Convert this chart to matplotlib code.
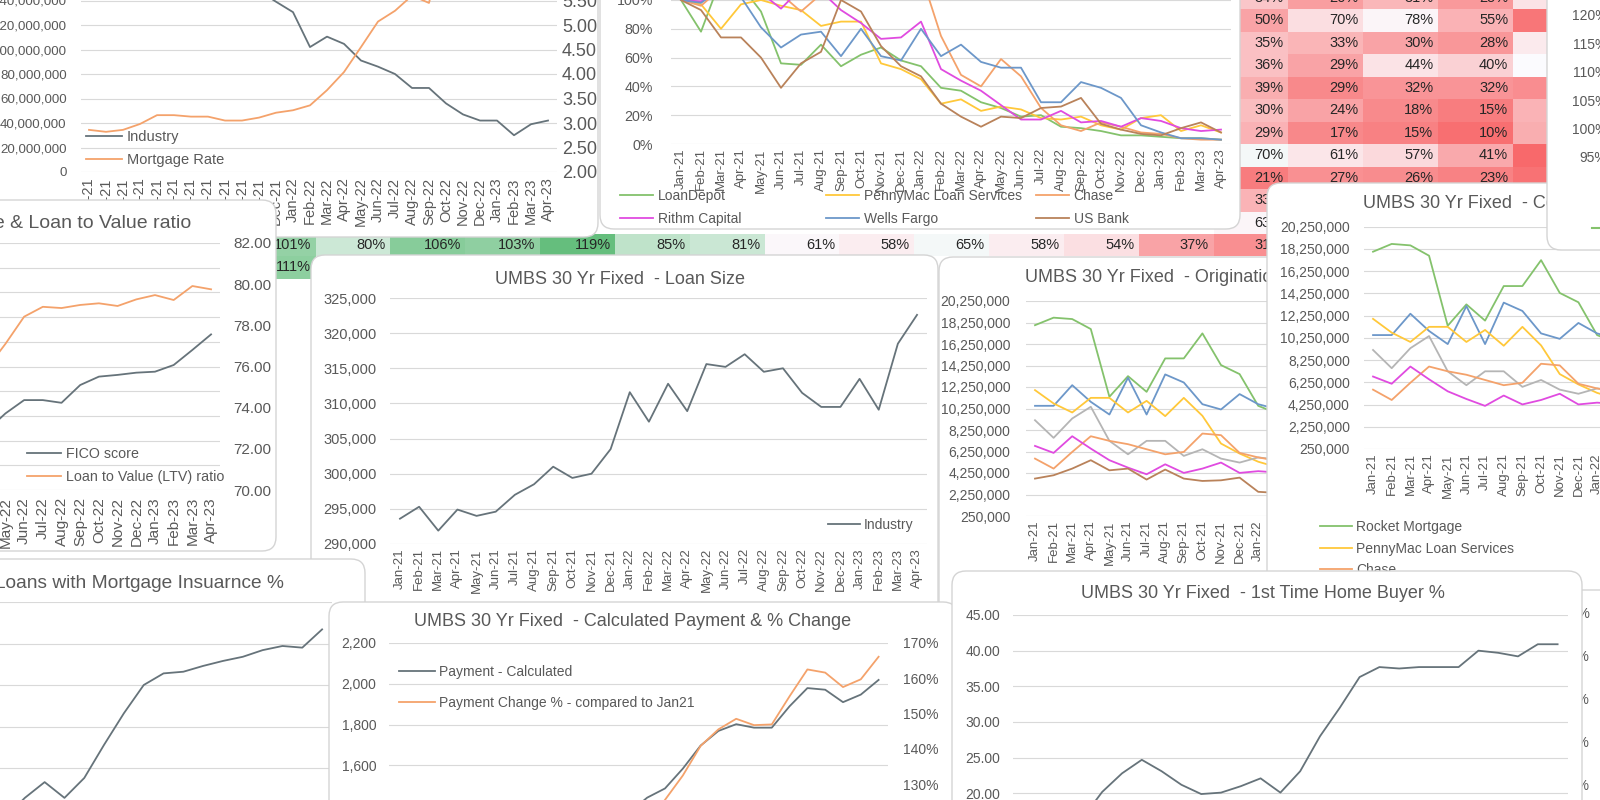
import numpy as np
import matplotlib
matplotlib.use("Agg")
import matplotlib.pyplot as plt
import matplotlib.transforms as mtransforms
from matplotlib.patches import FancyBboxPatch
from matplotlib.lines import Line2D
from matplotlib.legend import Legend
from matplotlib.colors import LinearSegmentedColormap
from matplotlib.ticker import FuncFormatter, MultipleLocator, PercentFormatter

plt.rcParams["font.family"] = ["Liberation Sans", "DejaVu Sans"]

W, H = 1600, 800
TXT = "#595959"
GRID = "#D9D9D9"
GRAY_LINE = "#66737A"
ORANGE = "#F4A26B"
GREEN = "#84C26C"
YELLOW = "#FFC83A"
MAGENTA = "#E04BE0"
BLUE = "#6C97C9"
BROWN = "#B9825A"
LIGHT_GRAY = "#B5B5B5"
LW = 1.3

MONTHS = [f"{m}-{y}" for y in ("21", "22", "23")
          for m in ("Jan", "Feb", "Mar", "Apr", "May", "Jun",
                    "Jul", "Aug", "Sep", "Oct", "Nov", "Dec")][:28]
X = np.arange(len(MONTHS))

# --- origination volume (industry) & mortgage rate --------------------------
IND_VOLUME = [215e6, 225e6, 240e6, 230e6, 212e6, 200e6, 190e6, 182e6, 172e6, 160e6,
              148e6, 139e6, 130.5e6, 102e6, 110.5e6, 104.6e6, 91e6, 86e6, 80e6, 68.6e6,
              68.6e6, 56e6, 47e6, 42e6, 42e6, 30e6, 39e6, 42e6]
MTG_RATE = [2.86, 2.82, 2.86, 2.98, 3.16, 3.16, 3.13, 3.13, 3.05, 3.05, 3.11, 3.21, 3.26, 3.36,
            3.67, 4.04, 4.55, 5.07, 5.29, 5.60, 5.45, 6.90, 6.80, 6.40, 6.30, 6.30, 6.50, 6.40]

# --- volume vs Jan-21, by lender (%) ----------------------------------------
PCT_LOANDEPOT = [100, 78, 115, 110, 92, 56, 55, 69, 54, 62, 67, 58, 54, 39, 37, 29, 25, 19,
                 20, 12, 11, 9, 6, 6, 5, 4, 4, 3]
PCT_PENNYMAC = [100, 97, 80, 97, 100, 96, 93, 82, 85, 85, 56, 52, 45, 28, 31, 23, 26, 24,
                18, 17, 19, 13, 10, 18, 20, 9, 13, 8]
PCT_CHASE = [100, 96, 108, 118, 112, 104, 92, 104, 118, 112, 108, 112, 118, 75, 48, 40, 59,
             47, 25, 13, 9, 15, 12, 8, 7, 4, 3, 3]
PCT_RITHM = [100, 99, 106, 112, 105, 94, 108, 106, 93, 84, 73, 74, 85, 52, 44, 37, 27, 17,
             17, 23, 15, 16, 12, 18, 16, 11, 9, 10]
PCT_WELLS = [100, 98, 108, 102, 81, 67, 76, 78, 61, 80, 61, 58, 80, 61, 69, 57, 53, 53, 29,
             29, 43, 39, 32, 13, 8, 4, 4, 3]
PCT_USBANK = [100, 93, 74, 74, 60, 39, 56, 64, 100, 92, 68, 54, 47, 28, 19, 12, 19, 18, 25,
              26, 32, 14, 10, 7, 6, 11, 15, 8]

# --- FICO & LTV -------------------------------------------------------------
FICO = [745, 744, 742, 741, 739, 737, 736, 735, 734, 733, 731, 730, 729, 727, 726, 724,
        731, 736.4, 736.4, 735.3, 742.5, 745.9, 746.6, 747.5, 747.9, 750.6, 756.7, 763]
LTV = [73.0, 73.4, 73.9, 74.2, 74.5, 74.8, 75.0, 75.2, 75.5, 75.6, 75.8, 76.0, 76.2, 76.3,
       76.5, 75.9, 77.1, 78.42, 78.9, 78.84, 78.99, 79.07, 78.94, 79.26, 79.47, 79.23,
       79.91, 79.75]

# --- loan size ----------------------------------------------------------------
LOAN_SIZE = [293600, 295300, 291900, 294900, 294000, 294600, 297000, 298500, 301000, 299400,
             300000, 303500, 311600, 307400, 312800, 308900, 315600, 315200, 317000, 314500,
             315000, 311500, 309500, 309500, 313500, 309100, 318500, 322600]

# --- origination volume by lender ($M) ----------------------------------------
ORIG_ROCKET = [18.0, 18.7, 18.57, 17.64, 11.34, 13.26, 11.8, 14.91, 14.91, 17.24, 14.29, 13.45,
               10.5, 9.8, 8.2, 7.4, 6.0, 5.1, 4.6, 3.9, 3.5, 3.1, 2.8, 2.4, 2.2, 2.3, 2.0, 2.1]
ORIG_WELLS = [10.5, 10.5, 12.42, 10.87, 9.69, 13.11, 9.69, 13.42, 12.67, 10.65, 10.16, 11.59,
              10.65, 10.2, 9.0, 8.1, 7.2, 6.5, 5.2, 4.9, 4.5, 4.0, 3.6, 3.2, 3.0, 2.8, 2.9, 2.6]
ORIG_PENNYMAC = [11.96, 10.72, 9.88, 11.24, 11.24, 9.88, 10.96, 9.54, 11.24, 9.57, 6.99, 6.06,
                 5.3, 4.8, 4.0, 3.5, 3.2, 2.8, 2.5, 2.3, 2.0, 1.8, 1.6, 1.5, 1.4, 1.6, 1.3, 1.4]
ORIG_LOANDEPOT = [9.16, 7.52, 9.32, 10.41, 7.24, 5.99, 7.24, 7.24, 5.84, 6.46, 5.59, 5.22, 5.7,
                  5.5, 5.0, 4.5, 4.0, 3.5, 3.0, 2.8, 2.5, 2.3, 2.0, 1.8, 1.7, 1.6, 1.7, 1.5]
ORIG_CHASE = [5.59, 4.66, 6.21, 7.67, 7.24, 6.93, 6.46, 5.99, 6.21, 7.92, 7.77, 6.12, 5.7, 5.4,
              4.0, 3.5, 3.2, 2.8, 2.5, 2.2, 2.0, 1.8, 1.6, 1.4, 1.3, 1.2, 1.3, 1.1]
ORIG_RITHM = [6.77, 6.12, 7.67, 6.52, 5.44, 4.75, 4.13, 5.06, 4.26, 4.66, 5.22, 4.26, 4.42, 4.3,
              3.8, 3.4, 3.0, 2.7, 2.4, 2.2, 2.0, 1.8, 1.6, 1.5, 1.4, 1.3, 1.4, 1.2]
ORIG_USBANK = [3.73, 4.04, 4.66, 5.44, 4.5, 4.66, 3.64, 4.57, 3.73, 3.51, 3.57, 3.82, 2.5, 2.4,
               2.2, 2.0, 1.8, 1.6, 1.4, 1.3, 1.2, 1.1, 1.0, 0.9, 0.9, 0.8, 0.9, 0.8]
ORIG_TICKS = np.arange(250000, 20250001, 2000000)

# --- payment, mortgage insurance, first time buyers ----------------------------
PAYMENT = [1216, 1200, 1195, 1225, 1262, 1265, 1275, 1283, 1283, 1280, 1290, 1310, 1355, 1370,
           1442, 1487, 1584, 1697, 1769, 1802, 1785, 1785, 1890, 1979, 1971, 1910, 1947, 2019]
PAY_CHANGE = [1.00, 0.987, 0.983, 1.007, 1.038, 1.04, 1.049, 1.055, 1.055, 1.053, 1.061,
              1.077, 1.114, 1.127, 1.186, 1.255, 1.324, 1.408, 1.455, 1.485, 1.467, 1.469,
              1.549, 1.625, 1.616, 1.575, 1.597, 1.661]
MI_PCT = [30, 31, 30.5, 31, 32, 31.5, 33, 32, 33, 33.5, 33, 34, 36.4, 38.3, 36.4, 38.8, 42.8,
          46.6, 50.0, 51.4, 51.6, 52.3, 52.9, 53.4, 54.2, 54.7, 54.5, 56.7]
FTHB_PCT = [15.5, 16.0, 15.0, 16.5, 20.2, 22.8, 24.7, 23.1, 21.2, 19.9, 20.1, 21.0, 22.1, 20.1,
            23.1, 28.0, 32.0, 36.3, 37.7, 37.5, 37.7, 37.7, 37.7, 40.0, 39.7, 39.2, 40.9, 40.9]

# --- heat table behind the charts (%), only the visible cells ------------------
HEAT_RIGHT = [  # rows 0-10, columns 13-17
    [34, 26, 31, 25, 40],
    [50, 70, 78, 55, 35],
    [35, 33, 30, 28, 42],
    [36, 29, 44, 40, 50],
    [39, 29, 32, 32, 30],
    [30, 24, 18, 15, 28],
    [29, 17, 15, 10, 28],
    [70, 61, 57, 41, 20],
    [21, 27, 26, 23, 18],
    [33, None, None, None, None],
    [63, None, None, None, None],
]
HEAT_ROW11 = [101, 80, 106, 103, 119, 85, 81, 61, 58, 65, 58, 54, 37, 31]
HEAT_ROW12 = [111]
# per-row colour scale (row min / midpoint / max, estimated)
ROW_LO = [15, 30, 20, 15, 20, 10, 8, 20, 15, 15, 15, 20, 30]
ROW_MID = [45, 80, 45, 50, 60, 45, 50, 68, 60, 50, 65, 62, 62]
ROW_HI = [110, 120, 110, 110, 110, 110, 110, 110, 110, 110, 110, 120, 130]

fig = plt.figure(figsize=(W / 100, H / 100), dpi=100)
fig.patch.set_facecolor("white")
# pixel coordinates, origin top-left
PX = mtransforms.Affine2D().scale(1 / W, -1 / H).translate(0, 1) + fig.transFigure

comma = FuncFormatter(lambda v, p: f"{v:,.0f}")
two_dec = FuncFormatter(lambda v, p: f"{v:.2f}")
pct = PercentFormatter(1.0, decimals=0)


def card(x0, y0, x1, y1, z):
    box = FancyBboxPatch((x0, y0), x1 - x0, y1 - y0, boxstyle="round,pad=0,rounding_size=14",
                         transform=PX, fc="white", ec="#D4D4D4", lw=1.0, zorder=z)
    fig.add_artist(box)


def new_axes(x0, y0, x1, y1, z, size=10):
    ax = fig.add_axes([x0 / W, 1 - y1 / H, (x1 - x0) / W, (y1 - y0) / H])
    ax.set_zorder(z)
    ax.patch.set_visible(False)
    for s in ax.spines.values():
        s.set_visible(False)
    ax.tick_params(length=0, colors=TXT, labelsize=size)
    return ax


def twin(ax, size=10):
    ax2 = ax.twinx()
    ax2.set_zorder(ax.get_zorder() + 1)
    ax2.patch.set_visible(False)
    for s in ax2.spines.values():
        s.set_visible(False)
    ax2.tick_params(length=0, colors=TXT, labelsize=size)
    return ax2


def months(ax, pad=3, size=9.5):
    ax.set_xlim(-0.5, len(MONTHS) - 0.5)
    ax.set_xticks(X)
    ax.set_xticklabels(MONTHS, rotation=90, fontsize=size)
    ax.tick_params(axis="x", pad=pad)


def grid(ax):
    ax.grid(axis="y", color=GRID, lw=0.8)
    ax.set_axisbelow(True)


def title(x, y, s, z, ha="center", size=13):
    fig.text(x / W, 1 - y / H, s, ha=ha, va="center", fontsize=size, color=TXT, zorder=z)


def legend(ax, lines, x, y, hl=2.5, sp=0.6, size=10):
    leg = Legend(ax, lines, [ln.get_label() for ln in lines], loc="upper left",
                 bbox_to_anchor=(x, y), bbox_transform=PX, frameon=False, fontsize=size,
                 labelcolor=TXT, handlelength=hl, handletextpad=0.3, labelspacing=sp,
                 borderpad=0, borderaxespad=0)
    ax.add_artist(leg)


# ---------------- heat table (background) ----------------
n_rows, n_cols = 13, 18
heat = np.full((n_rows, n_cols), np.nan)
for r, row in enumerate(HEAT_RIGHT):
    for j, v in enumerate(row):
        if v is not None:
            heat[r, 13 + j] = v
heat[11, :len(HEAT_ROW11)] = HEAT_ROW11
heat[12, :len(HEAT_ROW12)] = HEAT_ROW12

cmap = LinearSegmentedColormap.from_list("rwg", ["#F8696B", "#FCFCFF", "#63BE7B"])
rgba = np.zeros((n_rows, n_cols, 4))
for r in range(n_rows):
    for j in range(n_cols):
        v = heat[r, j]
        if np.isnan(v):
            continue
        lo, mid, hi = ROW_LO[r], ROW_MID[r], ROW_HI[r]
        t = 0.5 * (v - lo) / (mid - lo) if v < mid else 0.5 + 0.5 * (v - mid) / (hi - mid)
        rgba[r, j] = cmap(min(max(t, 0), 1))

CELL_W, CELL_H = 74.8, 22.45
axh = new_axes(241, -13.2, 241 + CELL_W * n_cols, -13.2 + CELL_H * n_rows, 1)
axh.imshow(rgba, extent=(0, n_cols, n_rows, 0), aspect="auto", interpolation="nearest")
axh.set_xlim(0, n_cols)
axh.set_ylim(n_rows, 0)
axh.axis("off")
for r in range(n_rows):
    for j in range(n_cols):
        if not np.isnan(heat[r, j]):
            axh.text(j + 0.94, r + 0.5, f"{heat[r, j]:.0f}%", ha="right", va="center",
                     fontsize=10.5, color="#262626")

# ---------------- A: industry volume & mortgage rate ----------------
card(-30, -30, 598, 237, 10)
ax = new_axes(80.5, -24, 556.5, 172, 11, size=9.6)
l1, = ax.plot(X, IND_VOLUME, color=GRAY_LINE, lw=LW, label="Industry")
ax.set_ylim(0, 160e6)
ax.yaxis.set_major_locator(MultipleLocator(20e6))
ax.yaxis.set_major_formatter(comma)
ax.tick_params(axis="y", pad=10)
months(ax, pad=4, size=10.5)
grid(ax)
ax2 = twin(ax, size=13)
l2, = ax2.plot(X, MTG_RATE, color=ORANGE, lw=LW, label="Mortgage Rate")
ax2.set_ylim(2, 6)
ax2.yaxis.set_major_locator(MultipleLocator(0.5))
ax2.yaxis.set_major_formatter(two_dec)
ax2.tick_params(axis="y", pad=4)
legend(ax2, [l1, l2], 86, 130, hl=2.5, sp=0.65, size=10.5)

# ---------------- C: % of Jan-21 volume by lender ----------------
card(600, -30, 1240, 229, 20)
ax = new_axes(671, -28.8, 1231, 144, 21, size=10.3)
lc = []
for vals, col, name in [(PCT_LOANDEPOT, GREEN, "LoanDepot"),
                        (PCT_PENNYMAC, YELLOW, "PennyMac Loan Services"),
                        (PCT_CHASE, ORANGE, "Chase"),
                        (PCT_RITHM, MAGENTA, "Rithm Capital"),
                        (PCT_WELLS, BLUE, "Wells Fargo"),
                        (PCT_USBANK, BROWN, "US Bank")]:
    ln, = ax.plot(X, np.array(vals) / 100, color=col, lw=LW, label=name)
    lc.append(ln)
ax.set_ylim(0, 1.2)
ax.yaxis.set_major_locator(MultipleLocator(0.2))
ax.yaxis.set_major_formatter(pct)
ax.tick_params(axis="y", pad=13)
months(ax)
grid(ax)
legend(ax, [lc[0], lc[3]], 620, 189, hl=2.4, sp=0.65)
legend(ax, [lc[1], lc[4]], 826, 189, hl=2.4, sp=0.65)
legend(ax, [lc[2], lc[5]], 1036, 189, hl=2.4, sp=0.65)

# ---------------- B: FICO & LTV ----------------
card(-30, 200, 276, 551, 30)
ax = new_axes(-303, 243, 220.4, 490, 31, size=11)
lf, = ax.plot(X, FICO, color=GRAY_LINE, lw=LW, label="FICO score")
ax.set_ylim(700, 800)
ax.yaxis.set_major_locator(MultipleLocator(10))
months(ax, pad=5, size=11)
grid(ax)
ax2 = twin(ax, size=11)
ll, = ax2.plot(X, LTV, color=ORANGE, lw=LW, label="Loan to Value (LTV) ratio")
ax2.set_ylim(70, 82)
ax2.yaxis.set_major_locator(MultipleLocator(2))
ax2.yaxis.set_major_formatter(two_dec)
ax2.tick_params(axis="y", pad=9)
title(191, 223, "UMBS 30 Yr Fixed  - FICO Score & Loan to Value ratio", 33, ha="right",
      size=14)
legend(ax2, [lf, ll], 27, 447, hl=2.4, sp=0.6, size=10.3)

# ---------------- D: loan size ----------------
card(311, 255, 938, 640, 40)
ax = new_axes(390.4, 298, 926.6, 544, 41, size=10.5)
ld, = ax.plot(X, LOAN_SIZE, color=GRAY_LINE, lw=LW, label="Industry")
ax.set_ylim(290000, 325000)
ax.yaxis.set_major_locator(MultipleLocator(5000))
ax.yaxis.set_major_formatter(comma)
ax.tick_params(axis="y", pad=10)
months(ax)
grid(ax)
title(620, 279, "UMBS 30 Yr Fixed  - Loan Size", 43)
legend(ax, [ld], 828, 518, hl=2.3)

# ---------------- K: origination by lender (rear copy) ----------------
ORIG_SERIES = [(ORIG_ROCKET, GREEN, "Rocket Mortgage"),
               (ORIG_WELLS, BLUE, "Wells Fargo"),
               (ORIG_PENNYMAC, YELLOW, "PennyMac Loan Services"),
               (ORIG_LOANDEPOT, LIGHT_GRAY, "LoanDepot"),
               (ORIG_CHASE, ORANGE, "Chase"),
               (ORIG_RITHM, MAGENTA, "Rithm Capital"),
               (ORIG_USBANK, BROWN, "US Bank")]
card(939, 257, 1300, 640, 50)
ax = new_axes(1025.7, 301, 1546.5, 516, 51)
for vals, col, name in ORIG_SERIES:
    ax.plot(X, np.array(vals) * 1e6, color=col, lw=LW, label=name)
ax.set_ylim(250000, 20250000)
ax.set_yticks(ORIG_TICKS)
ax.yaxis.set_major_formatter(comma)
ax.tick_params(axis="y", pad=11)
months(ax)
grid(ax)
title(1025, 278, "UMBS 30 Yr Fixed  - Origination Volume by Lender", 53, ha="left")

# ---------------- H: mortgage insurance ----------------
card(-30, 559, 365, 840, 60)
ax = new_axes(-222.9, 602, 332, 851, 61)
ax.plot(X, MI_PCT, color=GRAY_LINE, lw=LW)
ax.set_ylim(30, 60)
ax.yaxis.set_major_locator(MultipleLocator(5))
months(ax)
grid(ax)
title(284, 583, "UMBS 30 Yr Fixed  - Loans with Mortgage Insuarnce %", 63, ha="right",
      size=13.8)

# ---------------- G: calculated payment ----------------
card(329, 602, 957, 840, 70)
ax = new_axes(389.1, 643, 887.5, 847, 71)
lp, = ax.plot(X, PAYMENT, color=GRAY_LINE, lw=LW, label="Payment - Calculated")
ax.set_ylim(1200, 2200)
ax.yaxis.set_major_locator(MultipleLocator(200))
ax.yaxis.set_major_formatter(comma)
ax.tick_params(axis="y", pad=9)
months(ax)
grid(ax)
ax2 = twin(ax)
lq, = ax2.plot(X, PAY_CHANGE, color=ORANGE, lw=LW,
               label="Payment Change % - compared to Jan21")
ax2.set_ylim(1.70 - (847 - 643) / 352.5, 1.70)
ax2.yaxis.set_major_locator(MultipleLocator(0.1))
ax2.yaxis.set_major_formatter(pct)
ax2.tick_params(axis="y", pad=11)
title(633, 621, "UMBS 30 Yr Fixed  - Calculated Payment & % Change", 73)
legend(ax2, [lp, lq], 399, 665, hl=2.6, sp=1.2)

# ---------------- E: by lender (front copy) ----------------
card(1267, 183, 1640, 640, 75)
ax = new_axes(1363.7, 226.7, 1886.5, 449, 76)
le = {}
for vals, col, name in ORIG_SERIES[:-1]:
    ln, = ax.plot(X, np.array(vals) * 1e6, color=col, lw=LW, label=name)
    le[name] = ln
ax.set_ylim(250000, 20250000)
ax.set_yticks(ORIG_TICKS)
ax.yaxis.set_major_formatter(comma)
ax.tick_params(axis="y", pad=10)
months(ax)
grid(ax)
title(1363, 204, "UMBS 30 Yr Fixed  - Count by Lender", 78, ha="left")
legend(ax, [le["Rocket Mortgage"], le["PennyMac Loan Services"], le["Chase"]],
       1320, 520, hl=2.3, sp=0.55)

# ---------------- J: right-hand chart behind I ----------------
card(1500, 590, 1640, 840, 80)
ax = new_axes(1598, 612, 1700, 785, 81)
ax.set_ylim(0.2, 0.6)
ax.yaxis.set_major_locator(MultipleLocator(0.1))
ax.yaxis.set_major_formatter(pct)
ax.set_xticks([])
ax.tick_params(axis="y", pad=6)

# ---------------- I: first time home buyer ----------------
card(952, 571, 1582, 840, 90)
ax = new_axes(1013.1, 615, 1567.5, 829, 91)
ax.plot(X, FTHB_PCT, color=GRAY_LINE, lw=LW)
ax.set_ylim(15, 45)
ax.yaxis.set_major_locator(MultipleLocator(5))
ax.yaxis.set_major_formatter(two_dec)
ax.tick_params(axis="y", pad=9)
months(ax)
grid(ax)
title(1263, 593, "UMBS 30 Yr Fixed  - 1st Time Home Buyer %", 93)

# ---------------- F: top-right chart ----------------
card(1547, -30, 1640, 250, 110)
ax = new_axes(1613, 15, 1700, 157, 111)
ax.set_ylim(0.95, 1.20)
ax.yaxis.set_major_locator(MultipleLocator(0.05))
ax.yaxis.set_major_formatter(pct)
ax.set_xticks([])
ax.tick_params(axis="y", pad=4)
fig.add_artist(Line2D([1592, 1600], [228, 228], transform=PX, color=GREEN, lw=1.5, zorder=112))

fig.savefig("out.png", dpi=100)
